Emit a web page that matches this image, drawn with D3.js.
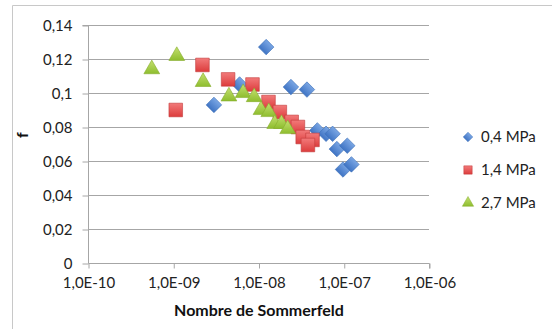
<!DOCTYPE html>
<html><head><meta charset="utf-8">
<script src="https://cdn.jsdelivr.net/npm/d3@7"></script>
<style>body{margin:0;background:#fff}svg{display:block}text{font-family:Lato,"Open Sans",sans-serif}</style>
</head><body><svg id="c" width="552" height="329"></svg>
<script>
const seriesNames = ["0,4 MPa", "1,4 MPa", "2,7 MPa"];
const s04x = [3.0e-9, 6.0e-9, 1.23e-8, 2.4e-8, 3.7e-8, 4.9e-8, 6.2e-8, 7.4e-8, 8.3e-8, 1.1e-7, 9.8e-8, 1.23e-7];
const s04y = [0.093, 0.105, 0.127, 0.1035, 0.102, 0.078, 0.076, 0.076, 0.067, 0.069, 0.055, 0.058];
const s14x = [1.07e-9, 2.2e-9, 4.4e-9, 8.5e-9, 1.31e-8, 1.78e-8, 2.45e-8, 2.9e-8, 3.3e-8, 4.3e-8, 3.8e-8];
const s14y = [0.090, 0.1165, 0.108, 0.105, 0.0947, 0.0888, 0.083, 0.080, 0.0741, 0.0724, 0.0694];
const s27x = [5.6e-10, 1.1e-9, 2.24e-9, 4.5e-9, 6.6e-9, 8.9e-9, 1.07e-8, 1.32e-8, 1.55e-8, 1.86e-8, 2.2e-8];
const s27y = [0.114, 0.1218, 0.1065, 0.098, 0.100, 0.0976, 0.090, 0.0888, 0.0818, 0.0818, 0.0788];
const xTicks = [1e-10, 1e-9, 1e-8, 1e-7, 1e-6];
const xTickLabels = ["1,0E-10", "1,0E-09", "1,0E-08", "1,0E-07", "1,0E-06"];
const yTicks = [0, 0.02, 0.04, 0.06, 0.08, 0.1, 0.12, 0.14];
const yTickLabels = ["0", "0,02", "0,04", "0,06", "0,08", "0,1", "0,12", "0,14"];

const svg = d3.select("#c");
const L = 88, R = 429, T = 25, B = 263;
const x = d3.scaleLog().domain([1e-10, 1e-6]).range([L, R]);
const y = d3.scaleLinear().domain([0, 0.14]).range([B, T]);

// frame (partially cropped)
svg.append("path").attr("d", "M12.5,329 V5.5 H552").attr("fill", "none").attr("stroke", "#c8c8c8").attr("stroke-width", 1);

const defs = svg.append("defs");
function grad(id, c1, c2) {
  const g = defs.append("linearGradient").attr("id", id).attr("x1", 0).attr("y1", 0).attr("x2", 0).attr("y2", 1);
  g.append("stop").attr("offset", "0%").attr("stop-color", c1);
  g.append("stop").attr("offset", "100%").attr("stop-color", c2);
}
grad("gb", "#7aa6e4", "#3f74c4");
grad("gr", "#f27a7a", "#dc3c3c");
grad("gg", "#c4e070", "#8ebd2e");

// gridlines
svg.append("g").selectAll("line").data(yTicks.filter(d => d > 0)).join("line")
  .attr("x1", L).attr("x2", R).attr("y1", d => Math.round(y(d)) + 0.5).attr("y2", d => Math.round(y(d)) + 0.5)
  .attr("stroke", "#a6a6a6").attr("stroke-width", 1);

// y axis
const yAxis = d3.axisLeft(y).tickValues(yTicks).tickSize(6).tickPadding(10)
  .tickFormat((d, i) => yTickLabels[i]);
const gy = svg.append("g").attr("transform", `translate(${L + 0.5},0.5)`).call(yAxis);
gy.select(".domain").attr("stroke", "#a6a6a6").attr("d", `M-6,${T}H0V${B}`);
gy.selectAll(".tick line").attr("stroke", "#a6a6a6");
gy.selectAll(".tick text").attr("font-size", 15).attr("fill", "#222").attr("font-family", "Lato");

// x axis
const xAxis = d3.axisBottom(x).tickValues(xTicks).tickSize(5).tickPadding(9)
  .tickFormat((d, i) => xTickLabels[i]);
const gx = svg.append("g").attr("transform", `translate(0.5,${B + 0.5})`).call(xAxis);
gx.select(".domain").attr("stroke", "#a6a6a6").attr("d", `M${L},0H${R}V5`);
gx.selectAll(".tick line").attr("stroke", "#a6a6a6");
gx.selectAll(".tick text").attr("font-size", 15).attr("fill", "#222").attr("font-family", "Lato");

// axis titles
svg.append("text").attr("x", 259).attr("y", 316).attr("text-anchor", "middle")
  .attr("font-size", 16).attr("font-weight", "bold").attr("fill", "#111").text("Nombre de Sommerfeld");
svg.append("text").attr("transform", "translate(28,135) rotate(-90)").attr("text-anchor", "middle")
  .attr("font-size", 16).attr("font-weight", "bold").attr("fill", "#111").text("f");

const series = [
  {name: seriesNames[0], xs: s04x, ys: s04y, sym: d3.symbolDiamond, size: 120, fill: "url(#gb)", stroke: "#3a6fb8"},
  {name: seriesNames[1], xs: s14x, ys: s14y, sym: d3.symbolSquare, size: 185, fill: "url(#gr)", stroke: "#c23a3a"},
  {name: seriesNames[2], xs: s27x, ys: s27y, sym: d3.symbolTriangle, size: 108, fill: "url(#gg)", stroke: "#86ac2e"}
];

series.forEach(s => {
  const pts = s.xs.map((v, i) => [v, s.ys[i]]);
  const shape = s.sym === d3.symbolDiamond ? d3.symbol().type(d3.symbolSquare).size(s.size) : d3.symbol().type(s.sym).size(s.size);
  svg.append("g").selectAll("path").data(pts).join("path")
    .attr("d", shape)
    .attr("transform", d => `translate(${x(d[0])},${y(d[1])})` + (s.sym === d3.symbolDiamond ? " rotate(45)" : ""))
    .attr("fill", s.fill).attr("stroke", s.stroke).attr("stroke-width", 0.6);
});

// legend
const lg = svg.append("g");
series.forEach((s, i) => {
  const cy = 137 + i * 33;
  const shape = s.sym === d3.symbolDiamond ? d3.symbol().type(d3.symbolSquare).size(45) : d3.symbol().type(s.sym).size(s.sym === d3.symbolSquare ? 70 : 55);
  lg.append("path").attr("d", shape)
    .attr("transform", `translate(468,${cy})` + (s.sym === d3.symbolDiamond ? " rotate(45)" : ""))
    .attr("fill", s.fill).attr("stroke", s.stroke).attr("stroke-width", 0.5);
  lg.append("text").attr("x", 481).attr("y", cy + 5).attr("font-size", 15).attr("fill", "#222").text(s.name);
});
</script></body></html>
